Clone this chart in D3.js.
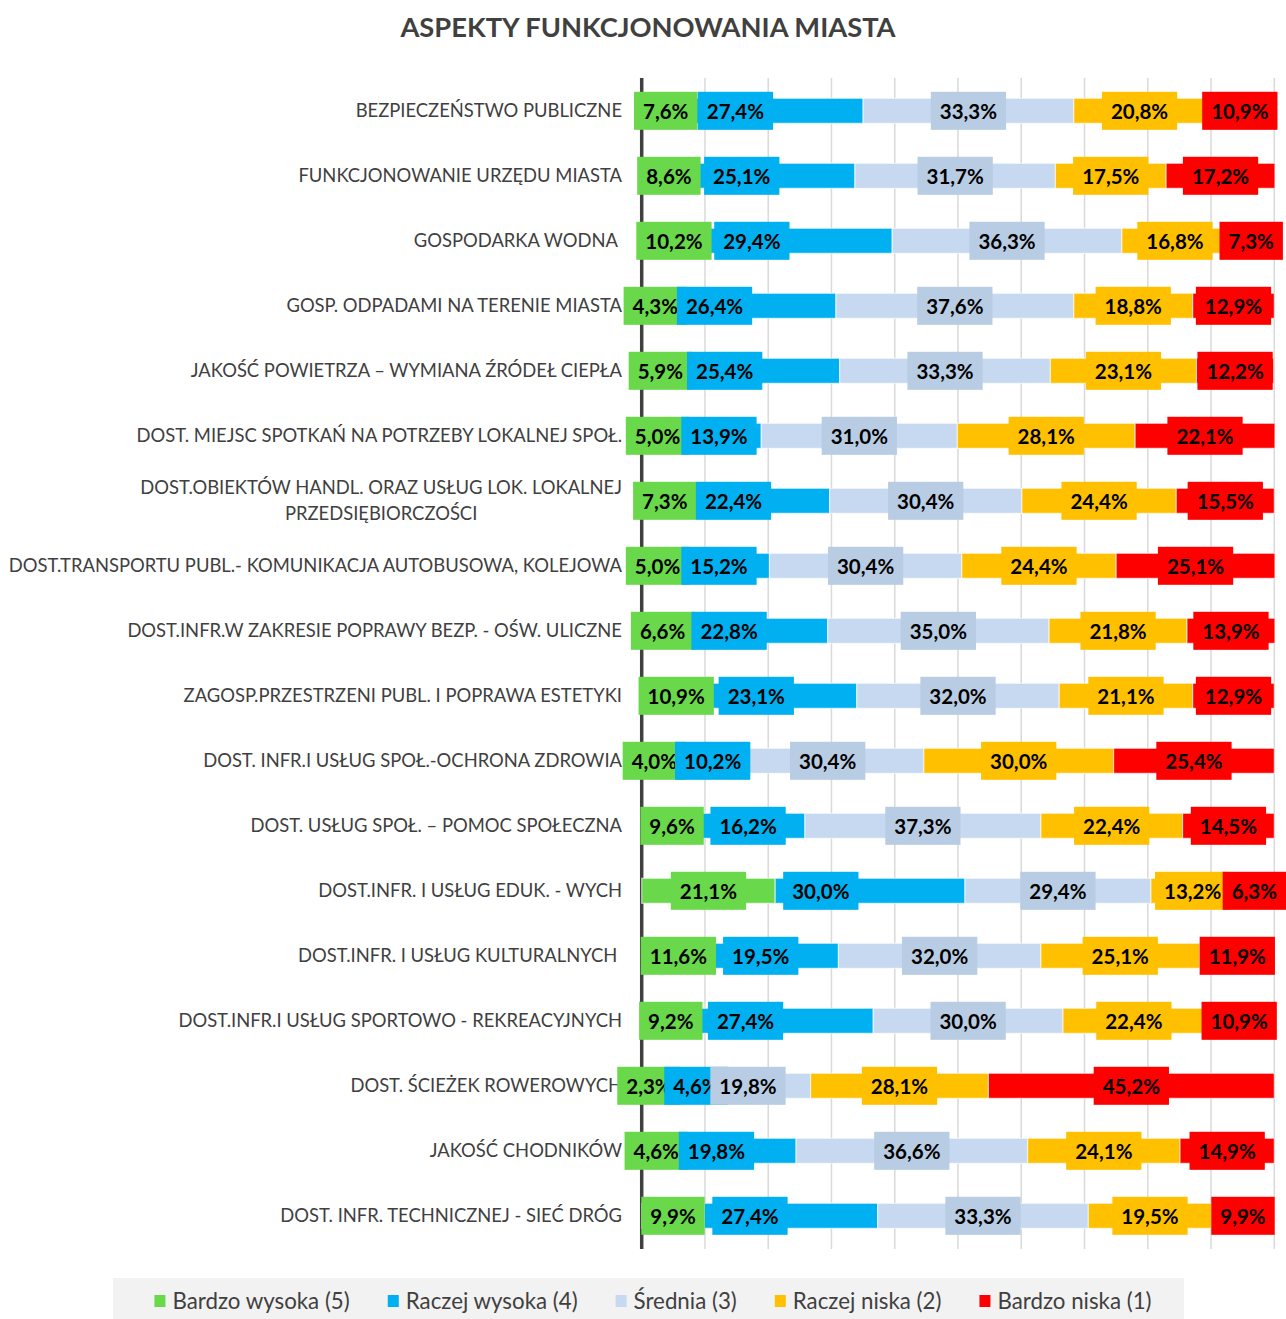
<!DOCTYPE html>
<html><head><meta charset="utf-8">
<script src="https://cdn.jsdelivr.net/npm/d3@7"></script>
<style>
body{margin:0;background:#fff}
svg text{font-family:Lato,"Open Sans",sans-serif}
</style>
</head><body>
<svg id="c" width="1286" height="1319"></svg>
<script>
const title = "ASPEKTY FUNKCJONOWANIA MIASTA";
const categories = [
  "BEZPIECZEŃSTWO PUBLICZNE",
  "FUNKCJONOWANIE URZĘDU MIASTA",
  "GOSPODARKA WODNA ",
  "GOSP. ODPADAMI NA TERENIE MIASTA",
  "JAKOŚĆ POWIETRZA – WYMIANA ŹRÓDEŁ CIEPŁA",
  "DOST. MIEJSC SPOTKAŃ NA POTRZEBY LOKALNEJ SPOŁ.",
  "DOST.OBIEKTÓW HANDL. ORAZ USŁUG LOK. LOKALNEJ\nPRZEDSIĘBIORCZOŚCI",
  "DOST.TRANSPORTU PUBL.- KOMUNIKACJA AUTOBUSOWA, KOLEJOWA",
  "DOST.INFR.W ZAKRESIE POPRAWY BEZP. - OŚW. ULICZNE",
  "ZAGOSP.PRZESTRZENI PUBL. I POPRAWA ESTETYKI",
  "DOST. INFR.I USŁUG SPOŁ.-OCHRONA ZDROWIA",
  "DOST. USŁUG SPOŁ. – POMOC SPOŁECZNA",
  "DOST.INFR. I USŁUG EDUK. - WYCH",
  "DOST.INFR. I USŁUG KULTURALNYCH ",
  "DOST.INFR.I USŁUG SPORTOWO - REKREACYJNYCH",
  "DOST. ŚCIEŻEK ROWEROWYCH",
  "JAKOŚĆ CHODNIKÓW",
  "DOST. INFR. TECHNICZNEJ - SIEĆ DRÓG"
];
const bardzoWysoka = [7.6, 8.6, 10.2, 4.3, 5.9, 5.0, 7.3, 5.0, 6.6, 10.9, 4.0, 9.6, 21.1, 11.6, 9.2, 2.3, 4.6, 9.9];
const raczejWysoka = [27.4, 25.1, 29.4, 26.4, 25.4, 13.9, 22.4, 15.2, 22.8, 23.1, 10.2, 16.2, 30.0, 19.5, 27.4, 4.6, 19.8, 27.4];
const srednia      = [33.3, 31.7, 36.3, 37.6, 33.3, 31.0, 30.4, 30.4, 35.0, 32.0, 30.4, 37.3, 29.4, 32.0, 30.0, 19.8, 36.6, 33.3];
const raczejNiska  = [20.8, 17.5, 16.8, 18.8, 23.1, 28.1, 24.4, 24.4, 21.8, 21.1, 30.0, 22.4, 13.2, 25.1, 22.4, 28.1, 24.1, 19.5];
const bardzoNiska  = [10.9, 17.2, 7.3, 12.9, 12.2, 22.1, 15.5, 25.1, 13.9, 12.9, 25.4, 14.5, 6.3, 11.9, 10.9, 45.2, 14.9, 9.9];
const seriesNames = ["Bardzo wysoka (5)", "Raczej wysoka (4)", "Średnia (3)", "Raczej niska (2)", "Bardzo niska (1)"];
const gridTicks = [0, 10, 20, 30, 40, 50, 60, 70, 80, 90, 100];

// styles
const barColors   = ["#69d84a", "#00b0f0", "#c6d9f0", "#ffc000", "#ff0000"];
const labelColors = ["#69d84a", "#00b0f0", "#b8cce4", "#ffc000", "#ff0000"];
const labelPlacement = ["center", "base", "center", "center", "center"];

const seriesValues = [bardzoWysoka, raczejWysoka, srednia, raczejNiska, bardzoNiska];
const rows = categories.map((c, i) => {
  const o = {cat: c};
  seriesNames.forEach((s, k) => o[s] = seriesValues[k][i]);
  return o;
});
const stacked = d3.stack().keys(seriesNames)(rows);

const svg = d3.select("#c");
const x = d3.scaleLinear().domain([0, 100]).range([641.7, 1274.3]);
const y = d3.scaleBand().domain(categories).range([78.3, 1248.3]).paddingInner(0.615).paddingOuter(0.3075);
const step = y.step();

// title
svg.append("text").attr("x", 648).attr("y", 37).attr("text-anchor", "middle")
  .attr("font-size", 27.3).attr("font-weight", "bold").attr("fill", "#404040").text(title);

// gridlines
svg.append("g").selectAll("line").data(gridTicks.slice(1)).join("line")
  .attr("x1", d => x(d)).attr("x2", d => x(d))
  .attr("y1", 78).attr("y2", 1249)
  .attr("stroke", "#d9d9d9").attr("stroke-width", 1.5);

// axis line
svg.append("line").attr("x1", x(0)).attr("x2", x(0)).attr("y1", 78).attr("y2", 1249)
  .attr("stroke", "#404040").attr("stroke-width", 3.5);

// category labels
const catFont = 18.4;
const catG = svg.append("g");
categories.forEach(c => {
  const lines = c.split("\n");
  const cy = y(c) + y.bandwidth() / 2;
  const t = catG.append("text").attr("font-size", catFont).attr("fill", "#404040")
    .style("white-space", "pre");
  if (lines.length === 1) {
    t.attr("x", 622).attr("y", cy).attr("dy", "0.36em").attr("text-anchor", "end").text(c);
  } else {
    const tmp = catG.append("text").attr("font-size", catFont).text(lines[0]);
    const w = tmp.node().getComputedTextLength();
    tmp.remove();
    const cx = 622 - w / 2;
    t.attr("text-anchor", "middle");
    lines.forEach((ln, k) => {
      t.append("tspan").attr("x", cx).attr("y", cy + (k - (lines.length - 1) / 2) * 26)
        .attr("dy", "0.36em").text(ln);
    });
  }
});

// bars
const barG = svg.append("g");
stacked.forEach((s, k) => {
  barG.append("g").selectAll("rect").data(s).join("rect")
    .attr("x", d => x(d[0])).attr("width", d => x(d[1]) - x(d[0]))
    .attr("y", d => y(d.data.cat)).attr("height", y.bandwidth())
    .attr("fill", barColors[k])
    .attr("stroke", "rgba(255,255,255,0.6)").attr("stroke-width", 1.2);
});

// labels
const fmt = v => v.toFixed(1).replace(".", ",") + "%";
const labG = svg.append("g");
const boxH = step * 0.585;
const pad = 9;
stacked.forEach((s, k) => {
  s.forEach(d => {
    const cy = y(d.data.cat) + y.bandwidth() / 2;
    const g = labG.append("g");
    const r = g.append("rect");
    const t = g.append("text").attr("font-size", 20.5).attr("font-weight", "bold")
      .attr("fill", "#000").attr("text-anchor", "middle").attr("dy", "0.38em")
      .attr("y", cy).text(fmt(d.data[seriesNames[k]]));
    const w = t.node().getComputedTextLength() + 2 * pad;
    let cx;
    if (labelPlacement[k] === "base") cx = x(d[0]) + 8 + w / 2;
    else cx = (x(d[0]) + x(d[1])) / 2;
    t.attr("x", cx);
    r.attr("x", cx - w / 2).attr("width", w).attr("y", cy - boxH / 2).attr("height", boxH)
      .attr("fill", labelColors[k]);
  });
});

// legend
const lg = svg.append("g");
lg.append("rect").attr("x", 113).attr("y", 1278).attr("width", 1071).attr("height", 41).attr("fill", "#f2f2f2");
const items = seriesNames.map((n, k) => {
  const gi = lg.append("g");
  gi.append("rect").attr("width", 11).attr("height", 12).attr("y", -6).attr("fill", barColors[k]);
  const t = gi.append("text").attr("x", 18).attr("dy", "0.36em").attr("font-size", 22.3).attr("fill", "#404040").text(n);
  return {gi, w: 18 + t.node().getComputedTextLength()};
});
const gap = 38;
const total = d3.sum(items, d => d.w) + gap * (items.length - 1);
let lx = 653 - total / 2;
items.forEach(it => { it.gi.attr("transform", `translate(${lx},1301)`); lx += it.w + gap; });
</script>
</body></html>
